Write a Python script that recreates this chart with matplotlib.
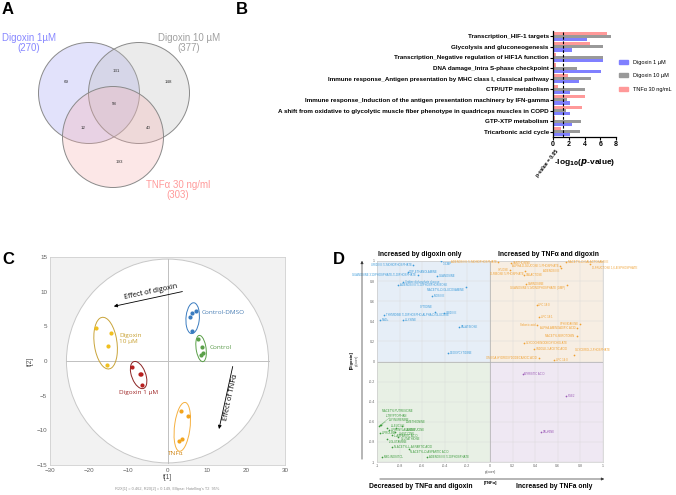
import numpy as np
import matplotlib
matplotlib.use("Agg")
import matplotlib.pyplot as plt
from matplotlib.patches import Circle, Ellipse, Rectangle, Patch

# ---------------- DATA ----------------
# Panel A (Venn counts)
venn_sets = ["Digoxin 1µM\n(270)", "Digoxin 10 µM\n(377)", "TNFα 30 ng/ml\n(303)"]
venn_counts = {"100": 69, "110": 131, "010": 148, "111": 58, "101": 12, "011": 40, "001": 193}

# Panel B (pathway enrichment)
pathways = [
    "Transcription_HIF-1 targets",
    "Glycolysis and gluconeogenesis",
    "Transcription_Negative regulation of HIF1A function",
    "DNA damage_Intra S-phase checkpoint",
    "Immune response_Antigen presentation by MHC class I, classical pathway",
    "CTP/UTP metabolism",
    "Immune response_Induction of the antigen presentation machinery by IFN-gamma",
    "A shift from oxidative to glycolytic muscle fiber phenotype in quadriceps muscles in COPD",
    "GTP-XTP metabolism",
    "Tricarbonic acid cycle",
]
b_series = ["Digoxin 1 µM", "Digoxin 10 µM", "TNFα 30 ng/mL"]
dig1_logp = [4.3, 2.4, 6.35, 6.05, 3.3, 2.2, 2.2, 2.1, 2.4, 2.1]
dig10_logp = [7.4, 6.35, 6.35, 3.0, 4.8, 4.0, 1.8, 1.6, 3.5, 3.4]
tnf_logp = [6.8, 4.7, 0.35, 0.35, 1.9, 0.6, 4.0, 3.7, 0.2, 1.0]
p_threshold = -np.log10(0.05)

# Panel C (PCA scores)
pca_groups = ["Control-DMSO", "Control", "Digoxin\n10 µM", "Digoxin 1 µM", "TNFα"]
pca_t1 = [[6.2, 7.4, 5.8, 6.3],
          [7.9, 8.8, 9.0, 8.6],
          [-18.2, -14.3, -15.3, -15.4],
          [-9.1, -7.1, -6.7, -6.6],
          [3.4, 5.2, 3.6, 2.9]]
pca_t2 = [[6.9, 7.2, 6.3, 4.3],
          [3.2, 2.0, 1.2, 0.8],
          [4.8, 4.0, 2.1, -0.6],
          [-0.9, -1.9, -1.9, -3.4],
          [-7.2, -7.9, -11.3, -11.6]]
hotelling_t1, hotelling_t2 = 25.8, 14.7
c_xticks = [-30, -20, -10, 0, 10, 20, 30]
c_yticks = [-15, -10, -5, 0, 5, 10, 15]

# Panel D (SUS plot)
blue_names = ["3'-CMP", "URIDINE 5'-MONOPHOSPHATE", "CDP-ETHANOLAMINE", "GUANOSINE",
              "GUANOSINE 3'-DIPHOSPHATE-5'-DIPHOSPHATE", "Uridine diphosphate glucose",
              "ADENOSINE 5'-DIPHOSPHORIBOSE", "N-ACETYL-D-GLUCOSAMINE", "INOSINE", "CYTIDINE",
              "URIDINE", "THYMIDINE 5'-DIPHOSPHO-ALPHA-D-GLUCOSE", "NAD+", "L-LYSINE",
              "PALATINOSE", "DEOXYCYTIDINE"]
blue_x = [-0.43, -0.68, -0.73, -0.47, -0.64, -0.77, -0.81, -0.21, -0.51, -0.49, -0.41, -0.935, -0.97, -0.77, -0.27, -0.37]
blue_y = [0.996, 0.96, 0.89, 0.85, 0.86, 0.79, 0.76, 0.74, 0.65, 0.49, 0.48, 0.46, 0.41, 0.41, 0.34, 0.08]

orange_names = ["ADENOSINE 5'-MONOPHOSPHATE", "XANTHOSINE", "ALPHA-D-GLUCOSE 1-PHOSPHATE",
                "N-ACETYL-D-GALACTOSAMINE", "D-FRUCTOSE 1,6-BISPHOSPHATE", "XYLOSE",
                "D-RIBOSE 5-PHOSPHATE", "ADENOSINE", "GALACTOSE", "CARNOSINE",
                "GUANOSINE 5'-MONOPHOSPHATE (GMP)", "LPC 18:0", "LPC 18:1", "SPHINGANINE",
                "Sebacic acid", "ALPHA-AMINOADIPIC ACID", "N-ACETYLSEROTONIN",
                "GLYCOCHENODEOXYCHOLATE", "INDOLE-3-ACETIC ACID", "GLYCEROL 2-PHOSPHATE",
                "OMEGA-HYDROXYDODECANOIC ACID", "LPC 14:0"]
orange_x = [0.075, 0.19, 0.62, 0.67, 0.885, 0.18, 0.31, 0.63, 0.30, 0.32, 0.68, 0.414, 0.434, 0.80, 0.417, 0.77, 0.77, 0.30, 0.39, 0.74, 0.43, 0.57]
orange_y = [0.99, 0.98, 0.955, 0.99, 0.97, 0.91, 0.90, 0.93, 0.86, 0.77, 0.76, 0.56, 0.44, 0.375, 0.366, 0.33, 0.25, 0.18, 0.124, 0.065, 0.03, 0.01]

purple_names = ["MYRISTIC ACID", "PGE2", "TAURINE"]
purple_x = [0.29, 0.67, 0.45]
purple_y = [-0.12, -0.34, -0.70]

green_names = ["N-ACETYLPUTRESCINE", "L-TRYPTOPHAN", "L-KYNURENINE", "L-METHIONINE", "L-LEUCINE",
               "L-PHENYLALANINE", "L-ISOLEUCINE", "L-HISTIDINE", "L-PROLINE", "L-ASPARTIC ACID",
               "GLUTATHIONE", "L-GLUTAMINE", "N-ACETYL-L-ASPARTIC ACID", "N-ACETYL-D-ASPARTIC ACID",
               "MYO-INOSITOL", "ADENOSINE 5'-DIPHOSPHATE"]
green_x = [-0.985, -0.976, -0.968, -0.779, -0.909, -0.897, -0.832, -0.84, -0.976, -0.87, -0.817, -0.909, -0.865, -0.72, -0.953, -0.555]
green_y = [-0.645, -0.635, -0.63, -0.638, -0.662, -0.685, -0.665, -0.705, -0.71, -0.735, -0.755, -0.771, -0.854, -0.867, -0.947, -0.947]
d_ticks = [-1, -0.8, -0.6, -0.4, -0.2, 0, 0.2, 0.4, 0.6, 0.8, 1]

# ---------------- FIGURE ----------------
W, H = 676, 495
plt.rcParams['font.family'] = ['Liberation Sans', 'DejaVu Sans']
fig = plt.figure(figsize=(W / 100, H / 100), dpi=100)
fig.patch.set_facecolor('white')


def px_axes(l, t, r, b, **kw):
    return fig.add_axes([l / W, 1 - b / H, (r - l) / W, (b - t) / H], **kw)


def ftext(x, y, s, **kw):
    return fig.text(x / W, 1 - y / H, s, **kw)


# Panel letters
for letter, (lx, ly) in zip("ABCD", [(2, 2), (236, 2), (2, 252), (333, 252)]):
    ftext(lx, ly, letter, fontsize=12, fontweight='bold', va='top', ha='left')

# ---------------- A: Venn ----------------
axA = px_axes(0, 0, 240, 210)
axA.set_xlim(0, 240)
axA.set_ylim(210, 0)
axA.axis('off')
centers = [(89, 93), (139, 93), (113, 137)]
fills = ['#a0a0f2', '#bdbdbd', '#f8b0b0']
for (cx, cy), fc in zip(centers, fills):
    axA.add_patch(Circle((cx, cy), 50.5, facecolor=fc, alpha=0.3, edgecolor='none'))
    axA.add_patch(Circle((cx, cy), 50.5, facecolor='none', edgecolor='#8a8a8a', lw=0.7))
region_pos = {"100": (66, 82), "110": (116, 71), "010": (168, 82), "111": (114, 104),
              "101": (83, 128), "011": (148, 128), "001": (119, 162)}
for key, val in venn_counts.items():
    axA.text(*region_pos[key], str(val), fontsize=3.2, ha='center', va='center', color='#333333')
set_label_pos = [(29, 43), (189, 43), (178, 190)]
set_label_col = ['#8888ff', '#a0a0a0', '#ff9a9a']
for s, (x, y), c in zip(venn_sets, set_label_pos, set_label_col):
    axA.text(x, y, s, fontsize=7, ha='center', va='center', color=c, linespacing=0.95)

# ---------------- B: bars ----------------
axB = px_axes(553, 31, 616, 137)
ypos = -np.arange(len(pathways))
bh = 0.3
colors_b = ['#8080ff', '#999999', '#ff9999']
axB.barh(ypos - bh, dig1_logp, height=bh, color=colors_b[0], label=b_series[0])
axB.barh(ypos, dig10_logp, height=bh, color=colors_b[1], label=b_series[1])
axB.barh(ypos + bh, tnf_logp, height=bh, color=colors_b[2], label=b_series[2])
axB.axvline(p_threshold, color='black', ls=(0, (2.5, 1.5)), lw=0.8)
axB.set_xlim(0, 8)
axB.set_ylim(-9.5, 0.5)
axB.set_yticks(ypos)
axB.set_yticklabels(pathways, fontsize=4.5, fontweight='bold')
axB.set_xticks([0, 2, 4, 6, 8])
axB.set_xticklabels(['0', '2', '4', '6', '8'], fontsize=5, fontweight='bold')
for s in ['top', 'right']:
    axB.spines[s].set_visible(False)
for s in ['left', 'bottom']:
    axB.spines[s].set_linewidth(0.9)
axB.tick_params(axis='both', length=2, width=0.8, pad=1)
axB.set_xlabel(r'-log$_{\mathbf{10}}$($\mathbfit{p}$-value)', fontsize=6, fontweight='bold', labelpad=6)
ftext(547, 163, 'p-value = 0.05', fontsize=3.6, fontweight='bold', rotation=52, ha='center', va='center')
fig.legend(handles=[Patch(color=c, label=l) for c, l in zip(colors_b, b_series)],
           loc='upper left', bbox_to_anchor=(614 / W, 1 - 55 / H), frameon=False,
           fontsize=4, handlelength=1.6, handleheight=0.7, labelspacing=1.5, handletextpad=1.0)

# ---------------- C: PCA ----------------
axC = px_axes(50, 257, 285, 465)
axC.set_facecolor('#f2f2f2')
axC.set_xlim(-30, 30)
axC.set_ylim(-15, 15)
axC.add_patch(Ellipse((0, 0), 2 * hotelling_t1, 2 * hotelling_t2, facecolor='white', edgecolor='#c8c8c8', lw=0.7, zorder=0.5))
axC.plot([-hotelling_t1, hotelling_t1], [0, 0], color='#c0c0c0', lw=0.7, zorder=0.6)
axC.plot([0, 0], [-hotelling_t2, hotelling_t2], color='#c0c0c0', lw=0.7, zorder=0.6)
pt_cols = ['#3a7cc0', '#5aa048', '#f0c020', '#b82020', '#f2a41e']
el_cols = ['#3a7cc0', '#5aa048', '#c9a43a', '#8b2323', '#f5b040']
lab_cols = ['#4a7fb5', '#5a9a4a', '#c8a030', '#a02828', '#d08a20']
lab_pos = [(8.6, 7.0, 'left'), (10.7, 1.9, 'left'), (-12.4, 3.3, 'left'), (-12.4, -4.5, 'left'), (2.1, -13.3, 'center')]
for g, xs, ys, pc, ec, lc, (lx, ly, lha) in zip(pca_groups, pca_t1, pca_t2, pt_cols, el_cols, lab_cols, lab_pos):
    xs = np.array(xs); ys = np.array(ys)
    axC.scatter(xs, ys, s=9, color=pc, zorder=3, linewidths=0)
    cx, cy = xs.mean(), ys.mean()
    cov = np.cov(xs, ys)
    vals, vecs = np.linalg.eigh(cov)
    ang = np.degrees(np.arctan2(vecs[1, 1], vecs[0, 1]))
    wdt = 2 * 1.35 * np.sqrt(vals[1]) + 0.9
    hgt = 2 * 1.35 * np.sqrt(max(vals[0], 0)) + 1.7
    axC.add_patch(Ellipse((cx, cy), wdt, hgt, angle=ang, facecolor='none', edgecolor=ec, lw=0.7, zorder=2))
    axC.text(lx, ly, g, color=lc, fontsize=4.6, ha=lha, va='center', family='Open Sans', linespacing=1.3)
axC.annotate('', xy=(-14.4, 7.8), xytext=(4.5, 10.1),
             arrowprops=dict(arrowstyle='-|>', color='black', lw=0.6, mutation_scale=5))
axC.text(-4.3, 10.0, 'Effect of digoxin', rotation=12, fontsize=5.2, ha='center', va='center', family='Open Sans')
axC.annotate('', xy=(13.0, -10.2), xytext=(16.8, -0.4),
             arrowprops=dict(arrowstyle='-|>', color='black', lw=0.6, mutation_scale=5))
axC.text(16.2, -5.2, 'Effect of TNFα', rotation=77.6, fontsize=5.2, ha='center', va='center', family='Open Sans')
axC.set_xticks(c_xticks)
axC.set_yticks(c_yticks)
axC.tick_params(length=0, labelsize=4.5, labelcolor='#606060', pad=2)
for s in axC.spines.values():
    s.set_color('#d0d0d0'); s.set_linewidth(0.6)
axC.set_xlabel('t[1]', fontsize=4.8, color='#505050', labelpad=1)
axC.set_ylabel('t[2]', fontsize=4.8, color='#505050', labelpad=2)
ftext(167, 489, "R2X[1] = 0.462, R2X[2] = 0.149, Ellipse: Hotelling's T2  95%", fontsize=2.8,
      color='#909090', ha='center', va='center')

# ---------------- D: SUS plot ----------------
axD = px_axes(377, 261, 603, 462)
axD.set_xlim(-1, 1)
axD.set_ylim(-1, 1)
quad = [((-1, 0), '#e6eef7'), ((0, 0), '#f7eee3'), ((-1, -1), '#e8f0e5'), ((0, -1), '#efe8f3')]
for (qx, qy), qc in quad:
    axD.add_patch(Rectangle((qx, qy), 1, 1, facecolor=qc, edgecolor='none', zorder=0))
axD.set_xticks(d_ticks)
axD.set_yticks(d_ticks)
axD.set_xticklabels([f'{t:g}' for t in d_ticks])
axD.set_yticklabels([f'{t:g}' for t in d_ticks])
axD.tick_params(length=0, labelsize=2.6, labelcolor='#666666', pad=1.5)
axD.grid(True, color='#d8d8d8', lw=0.3, zorder=0.5)
axD.set_axisbelow(True)
axD.axhline(0, color='#b0b0b0', lw=0.5, zorder=1)
axD.axvline(0, color='#b0b0b0', lw=0.5, zorder=1)
for s in axD.spines.values():
    s.set_color('#cccccc'); s.set_linewidth(0.5)

left_labels = {"URIDINE 5'-MONOPHOSPHATE", "GUANOSINE 3'-DIPHOSPHATE-5'-DIPHOSPHATE",
               "ADENOSINE 5'-MONOPHOSPHATE", "ALPHA-D-GLUCOSE 1-PHOSPHATE", "XYLOSE",
               "D-RIBOSE 5-PHOSPHATE", "SPHINGANINE", "Sebacic acid", "ALPHA-AMINOADIPIC ACID",
               "N-ACETYLSEROTONIN", "OMEGA-HYDROXYDODECANOIC ACID", "N-ACETYL-D-GLUCOSAMINE",
               "GUANOSINE 5'-MONOPHOSPHATE (GMP)", "ADENOSINE", "CYTIDINE"}
below_labels = {"N-ACETYL-D-GLUCOSAMINE", "GUANOSINE 5'-MONOPHOSPHATE (GMP)", "ADENOSINE",
                "D-RIBOSE 5-PHOSPHATE", "L-GLUTAMINE", "N-ACETYL-D-ASPARTIC ACID", "3'-CMP",
                "D-FRUCTOSE 1,6-BISPHOSPHATE"}
above_labels = {"CYTIDINE", "GLYCEROL 2-PHOSPHATE"}
lift = {"N-ACETYLPUTRESCINE": (0.03, 0.15), "L-TRYPTOPHAN": (0.05, 0.095), "L-KYNURENINE": (0.07, 0.05),
        "L-METHIONINE": (0.03, 0.035), "L-LEUCINE": (0.03, 0.02), "L-PHENYLALANINE": (0.02, 0.0),
        "L-ISOLEUCINE": (0.09, -0.012), "L-HISTIDINE": (0.03, -0.015), "L-ASPARTIC ACID": (0.02, -0.01),
        "GLUTATHIONE": (0.03, -0.02), "L-PROLINE": (0.02, 0.0)}

for names, xs, ys, col in [(blue_names, blue_x, blue_y, '#3a9ad9'),
                           (orange_names, orange_x, orange_y, '#f0a030'),
                           (purple_names, purple_x, purple_y, '#9b59b6'),
                           (green_names, green_x, green_y, '#3a9a3a')]:
    axD.scatter(xs, ys, s=1.5, color=col, zorder=3, linewidths=0)
    for n, x, y in zip(names, xs, ys):
        dx, dy, ha = 0.015, 0.0, 'left'
        if n in left_labels:
            dx, ha = -0.015, 'right'
        if n in below_labels:
            dy = -0.03
        if n in above_labels:
            dy = 0.05
        if n in lift:
            lx, ly = lift[n]
            axD.annotate(n, xy=(x, y), xytext=(x + lx, y + ly), fontsize=2.0, color=col,
                         ha='left', va='center',
                         arrowprops=dict(arrowstyle='-', color=col, lw=0.2) if ly > 0.04 else None)
        else:
            axD.text(x + dx, y + dy, n, fontsize=2.0, color=col, ha=ha, va='center', zorder=4)

# D headers / axis annotations
ftext(420, 255, 'Increased by digoxin only', fontsize=4.9, fontweight='bold', ha='center', va='center')
ftext(548, 255, 'Increased by TNFα and digoxin', fontsize=4.9, fontweight='bold', ha='center', va='center')
ftext(421, 486, 'Decreased by TNFα and digoxin', fontsize=4.9, fontweight='bold', ha='center', va='center')
ftext(554, 486, 'Increased by TNFa only', fontsize=4.9, fontweight='bold', ha='center', va='center')
ftext(491, 483, '[TNFα]', fontsize=3, fontweight='bold', ha='center', va='center')
ftext(490, 472, 'p(corr)', fontsize=2.8, ha='center', va='center', color='#555555')
ftext(352, 360, '[Digoxin]', fontsize=3, fontweight='bold', ha='center', va='center', rotation=90)
ftext(357, 360, 'p(corr)', fontsize=2.8, ha='center', va='center', rotation=90, color='#555555')

ov = fig.add_axes([0, 0, 1, 1], zorder=10)
ov.set_xlim(0, W); ov.set_ylim(H, 0); ov.axis('off')
ov.patch.set_alpha(0)
ov.annotate('', xy=(607, 479), xytext=(377, 479),
            arrowprops=dict(arrowstyle='-|>', color='#333333', lw=0.5, mutation_scale=4))
ov.annotate('', xy=(362, 258), xytext=(362, 462),
            arrowprops=dict(arrowstyle='-|>', color='#333333', lw=0.5, mutation_scale=4))

fig.savefig('out.png', dpi=100)
